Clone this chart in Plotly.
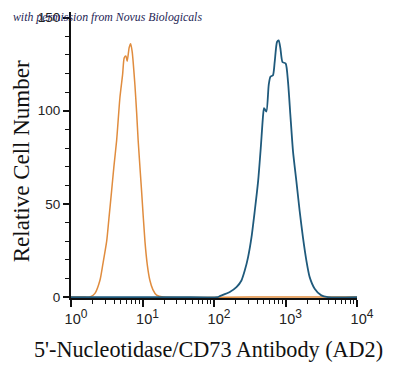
import plotly.graph_objects as go

# Data (x as log10 fluorescence, y as relative cell number)
orange_log10 = [0.0, 0.20, 0.265, 0.335, 0.405, 0.447, 0.499, 0.53, 0.568, 0.60, 0.638, 0.684,
                0.722, 0.744, 0.768, 0.786, 0.814, 0.834, 0.856, 0.894, 0.918, 0.94, 0.987,
                1.034, 1.068, 1.103, 1.145, 1.197, 1.29, 2.5, 4.0]
orange_count = [0, 0, 0, 2, 9, 18, 30, 42, 57, 70, 84, 107,
                119.5, 128.4, 129.4, 126.6, 134, 136, 131.6, 113.8, 99, 83.6, 57,
                30, 17, 9, 4, 1, 0, 0, 0]

blue_log10 = [0.0, 1.5, 2.05, 2.081, 2.221, 2.314, 2.384, 2.430, 2.476, 2.524, 2.570, 2.617,
              2.654, 2.687, 2.700, 2.733, 2.765, 2.789, 2.825, 2.849, 2.881, 2.905, 2.929,
              2.957, 3.003, 3.035, 3.068, 3.105, 3.152, 3.198, 3.244, 3.292, 3.338, 3.408,
              3.501, 3.594, 4.0]
blue_count = [0, 0, 0, 0.5, 2.7, 5.3, 8.9, 14.2, 21.3, 32, 46.2, 62.2,
              80, 97.8, 101.4, 99.6, 113.8, 118.2, 119.1, 126.2, 136.9, 137.8, 133.4,
              126.2, 125.3, 115.6, 97.8, 78.2, 62.2, 46.2, 32, 19.6, 10.7, 4.5,
              0.9, 0, 0]

x_tick_values = [1, 10, 100, 1000, 10000]
x_tick_exponents = ["0", "1", "2", "3", "4"]
y_tick_values = [0, 50, 100, 150]

x_title = "5'-Nucleotidase/CD73 Antibody (AD2)"
y_title = "Relative Cell Number"
watermark = "with permission from Novus Biologicals"

orange_x = [10 ** v for v in orange_log10]
blue_x = [10 ** v for v in blue_log10]
minor_vals = [k * 10 ** n for n in range(0, 4) for k in range(2, 10)]
x_tick_labels = ["10<sup><span style='font-size:12px'>%s</span></sup>" % e for e in x_tick_exponents]

fig = go.Figure()
fig.add_trace(go.Scatter(x=orange_x, y=orange_count, mode="lines",
                         line=dict(color="#E08C3E", width=1.5, shape="spline", smoothing=0.6),
                         showlegend=False, hoverinfo="skip"))
fig.add_trace(go.Scatter(x=blue_x, y=blue_count, mode="lines",
                         line=dict(color="#1F5A7C", width=1.8, shape="spline", smoothing=0.6),
                         showlegend=False, hoverinfo="skip"))

# page body has an 8px default margin; figure sized to fit the 400x372 window
fig.update_layout(
    width=392, height=364,
    margin=dict(l=63, r=42.5, t=2, b=74.2),
    paper_bgcolor="white", plot_bgcolor="white",
    font=dict(family="Liberation Sans, Arial, sans-serif", color="#222222"),
)
fig.update_xaxes(
    type="log", range=[0, 4],
    tickmode="array", tickvals=x_tick_values, ticktext=x_tick_labels,
    tickfont=dict(size=14.5, color="#222222"),
    ticks="outside", ticklen=7, tickwidth=1.5, tickcolor="#111111",
    ticklabelshift=5,
    showline=True, linecolor="#111111", linewidth=2,
    showgrid=False, zeroline=False,
    minor=dict(tickmode="array", tickvals=minor_vals, ticks="outside",
               ticklen=4, tickwidth=1.2, tickcolor="#111111", showgrid=False),
)
fig.update_yaxes(
    range=[-0.5, 153],
    tickmode="array", tickvals=y_tick_values,
    tickfont=dict(size=13.5, color="#222222"),
    ticks="outside", ticklen=6, tickwidth=1.5, tickcolor="#111111",
    showline=True, linecolor="#111111", linewidth=2,
    showgrid=False, zeroline=False,
    minor=dict(dtick=10, ticks="outside", ticklen=4, tickwidth=1.2,
               tickcolor="#111111", showgrid=False),
)

fig.add_annotation(text=y_title, xref="paper", yref="paper", x=-0.174, y=0.479,
                   textangle=-90, showarrow=False, xanchor="center", yanchor="middle",
                   borderpad=0,
                   font=dict(family="Liberation Serif, Times New Roman, serif", size=23, color="#111111"))
fig.add_annotation(text=x_title, xref="paper", yref="paper", x=0.4817, y=-0.181,
                   showarrow=False, xanchor="center", yanchor="middle",
                   font=dict(family="Liberation Serif, Times New Roman, serif", size=22.2, color="#111111"))
fig.add_annotation(text="<i>" + watermark + "</i>", xref="paper", yref="paper", x=-0.209, y=0.9826,
                   showarrow=False, xanchor="left", yanchor="middle",
                   font=dict(family="Liberation Serif, serif", size=11.8, color="#1e1e55"))

fig.write_html("out.html")
